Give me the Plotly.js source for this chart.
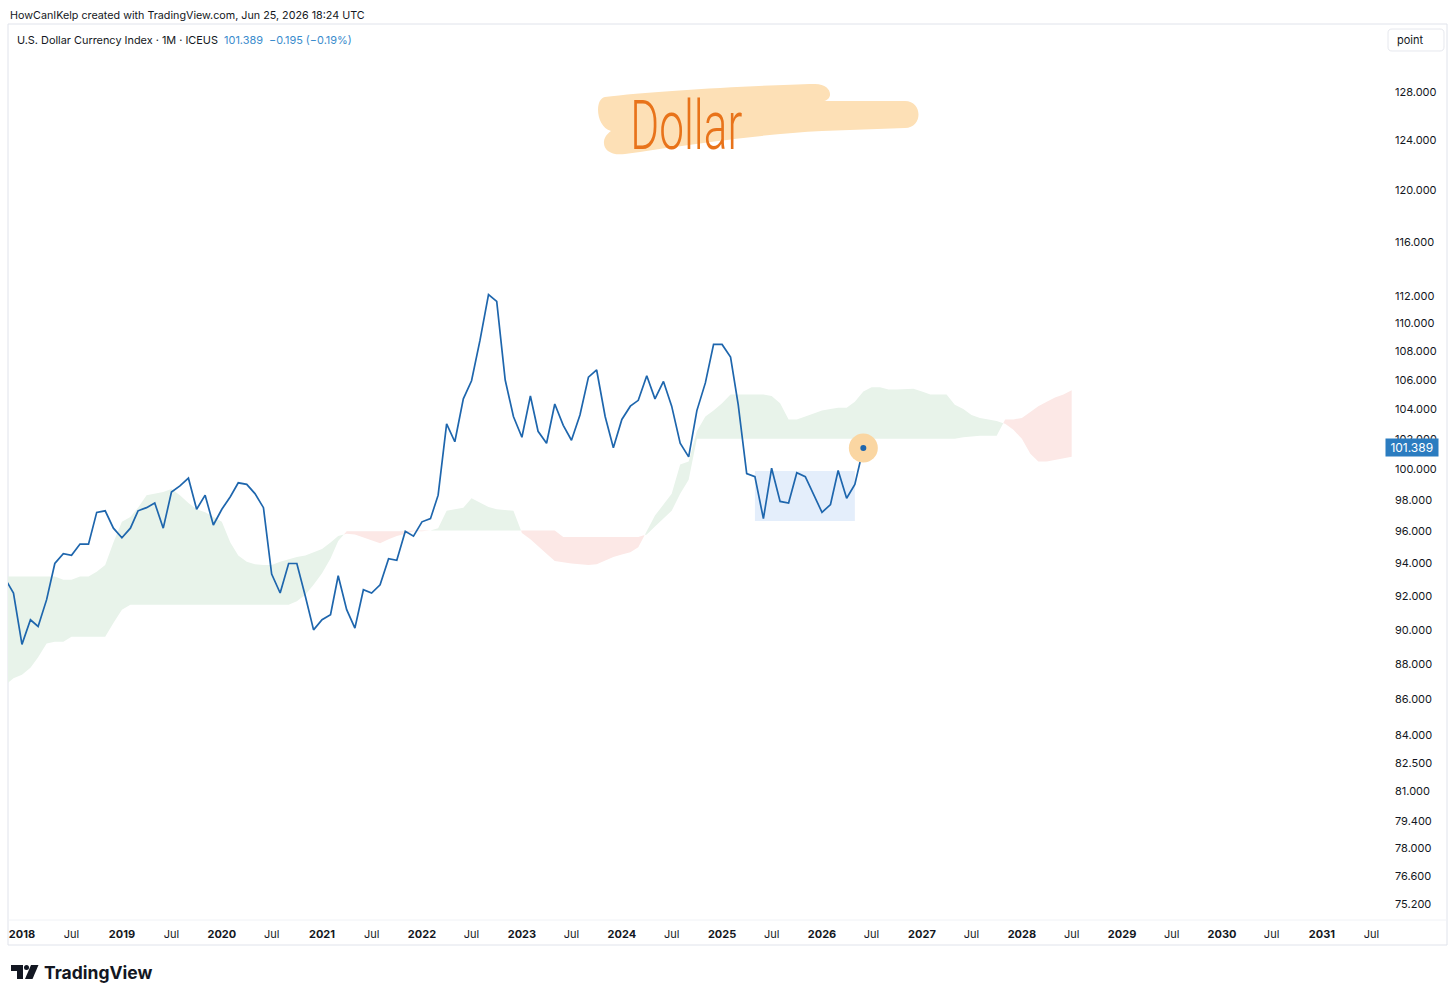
<!DOCTYPE html>
<html>
<head>
<meta charset="utf-8">
<script src="https://cdn.plot.ly/plotly-3.0.1.min.js"></script>
<style>
html,body{margin:0;padding:0;background:#ffffff;}
#chart{width:1456px;height:1000px;}
</style>
</head>
<body>
<div id="chart"></div>
<script>
// ---------------- DATA ----------------
// Monthly closes, U.S. Dollar Currency Index, Nov 2017 .. Jun 2026
const dxyStart = [2017, 11];
const dxyClose = [
  93.05, 92.2,
  89.15, 90.6, 90.2, 91.8, 94.0, 94.6, 94.5, 95.2, 95.2, 97.2, 97.3, 96.2,
  95.6, 96.2, 97.3, 97.5, 97.8, 96.2, 98.5, 98.9, 99.4, 97.4, 98.3, 96.4,
  97.4, 98.2, 99.1, 99.0, 98.4, 97.5, 93.35, 92.2, 94.0, 94.0, 92.0, 90.0,
  90.6, 90.9, 93.25, 91.2, 90.1, 92.4, 92.2, 92.7, 94.3, 94.2, 96.0, 95.7,
  96.6, 96.8, 98.3, 103.0, 101.8, 104.7, 105.95, 108.8, 112.1, 111.6, 106.0, 103.5,
  102.1, 104.9, 102.5, 101.7, 104.35, 102.9, 101.9, 103.6, 106.2, 106.7, 103.5, 101.4,
  103.3, 104.2, 104.6, 106.3, 104.7, 105.9, 104.2, 101.7, 100.8, 103.9, 105.8, 108.5,
  108.5, 107.6, 104.3, 99.7, 99.5, 96.8, 100.05, 97.9, 97.8, 99.76, 99.5, 98.4,
  97.2, 97.7, 99.9, 98.1, 99.0, 101.389
];

// Ichimoku cloud spans (plotted 26 months ahead), Nov 2017 .. Jul 2028
const cloudStart = [2017, 11];
const spanA = [
  93.2, 93.2,
  93.2, 93.2, 93.2, 93.2, 93.2, 93.0, 93.0, 93.2, 93.2, 93.5, 93.9, 95.3,
  96.6, 96.9, 97.5, 98.3, 98.4, 98.5, 98.7, 98.3, 97.8, 97.4, 97.2, 96.9,
  96.6, 95.3, 94.5, 94.1, 93.95, 93.9, 93.9, 94.1, 94.25, 94.4, 94.5, 94.7,
  94.9, 95.3, 95.7, 95.85, 95.8, 95.6, 95.4, 95.25, 95.5, 95.7, 95.85, 96.0,
  96.0, 96.05, 96.2, 97.3, 97.4, 97.5, 98.1, 97.8, 97.55, 97.4, 97.35, 97.3,
  95.9, 95.5, 95.1, 94.6, 94.15, 94.05, 94.0, 93.95, 93.9, 93.95, 94.2, 94.4,
  94.55, 94.7, 95.0, 96.0, 97.0, 97.7, 98.4, 100.3, 100.5, 102.5, 103.5, 103.9,
  104.4, 105.0, 105.0, 105.0, 105.0, 105.0, 104.9, 104.4, 103.3, 103.3, 103.5, 103.7,
  103.9, 104.0, 104.1, 104.1, 104.5, 105.2, 105.5, 105.5, 105.35, 105.35, 105.4, 105.4,
  105.2, 105.0, 105.0, 105.0, 104.3, 104.0, 103.6, 103.4, 103.3, 103.2, 103.0, 102.6,
  102.0, 101.0, 100.5, 100.5, 100.6, 100.7, 100.8
];
const spanB = [
  86.8, 87.2,
  87.4, 87.8, 88.4, 89.2, 89.3, 89.3, 89.6, 89.6, 89.6, 89.6, 89.6, 90.4,
  91.2, 91.5, 91.5, 91.5, 91.5, 91.5, 91.5, 91.5, 91.5, 91.5, 91.5, 91.5,
  91.5, 91.5, 91.5, 91.5, 91.5, 91.5, 91.5, 91.5, 91.5, 91.7, 92.1, 92.7,
  93.4, 94.3, 95.4, 96.0, 96.0, 96.0, 96.0, 96.0, 96.0, 96.0, 96.0, 96.05,
  96.05, 96.05, 96.05, 96.05, 96.05, 96.05, 96.05, 96.05, 96.05, 96.05, 96.05, 96.05,
  96.05, 96.05, 96.05, 96.05, 96.05, 95.65, 95.65, 95.65, 95.65, 95.65, 95.65, 95.65,
  95.65, 95.65, 95.65, 95.8, 96.3, 96.8, 97.3, 98.4, 99.3, 102.0, 102.0, 102.0,
  102.0, 102.0, 102.0, 102.0, 102.0, 102.0, 102.0, 102.0, 102.0, 102.0, 102.0, 102.0,
  102.0, 102.0, 102.0, 102.0, 102.0, 102.0, 102.0, 102.0, 102.0, 102.0, 102.0, 102.0,
  102.0, 102.0, 102.0, 102.0, 102.0, 102.1, 102.15, 102.2, 102.2, 102.2, 103.3, 103.3,
  103.4, 103.8, 104.2, 104.5, 104.8, 105.0, 105.3
];

// Range box drawn on the chart
const boxDates = ['2025-05-01', '2026-05-01'];
const boxRange = [96.65, 99.87];

// Axis ticks
const yTickVals = [128, 124, 120, 116, 112, 110, 108, 106, 104, 102, 100, 98, 96, 94, 92, 90, 88, 86, 84, 82.5, 81, 79.4, 78, 76.6, 75.2];
const xYears = [2018, 2019, 2020, 2021, 2022, 2023, 2024, 2025, 2026, 2027, 2028, 2029, 2030, 2031];

// Texts
const headerText = 'HowCanIKelp created with TradingView.com, Jun 25, 2026 18:24 UTC';
const symbolText = 'U.S. Dollar Currency Index · 1M · ICEUS';
const priceText = '101.389';
const changeText = '\u22120.195 (\u22120.19%)';
const noteText = 'Dollar';

// ---------------- HELPERS ----------------
function monthSeq(start, n) {
  const out = [];
  let y = start[0], m = start[1];
  for (let i = 0; i < n; i++) {
    out.push(y + '-' + String(m).padStart(2, '0') + '-01');
    m++; if (m > 12) { m = 1; y++; }
  }
  return out;
}
function fmt(ms) {
  const d = new Date(ms);
  const p = v => String(v).padStart(2, '0');
  return d.getUTCFullYear() + '-' + p(d.getUTCMonth() + 1) + '-' + p(d.getUTCDate()) + ' ' +
    p(d.getUTCHours()) + ':' + p(d.getUTCMinutes()) + ':' + p(d.getUTCSeconds());
}
function buildCloud(dates, a, b) {
  const t = dates.map(d => Date.parse(d + 'T00:00:00Z'));
  const X = [], A = [], B = [];
  for (let i = 0; i < t.length; i++) {
    if (i > 0) {
      const d0 = Math.log(a[i-1]) - Math.log(b[i-1]);
      const d1 = Math.log(a[i]) - Math.log(b[i]);
      if (d0 * d1 < 0) {
        const f = d0 / (d0 - d1);
        const tc = t[i-1] + f * (t[i] - t[i-1]);
        const vc = Math.exp(Math.log(a[i-1]) + f * (Math.log(a[i]) - Math.log(a[i-1])));
        X.push(fmt(tc)); A.push(vc); B.push(vc);
      }
    }
    X.push(fmt(t[i])); A.push(a[i]); B.push(b[i]);
  }
  const M = A.map((v, i) => Math.max(v, B[i]));
  return { X, A, B, M };
}

const dxyDates = monthSeq(dxyStart, dxyClose.length);
const cloudDates = monthSeq(cloudStart, spanA.length);
const cloud = buildCloud(cloudDates, spanA, spanB);

// pixel -> paper helpers (plot area: x 8..1383, y 25..920)
const L = 8, R = 1383, T = 25, Bt = 920;
const PX = px => (px - L) / (R - L);
const PY = py => (Bt - py) / (Bt - T);
const P = (x, y) => PX(x).toFixed(5) + ',' + PY(y).toFixed(5);

const GREEN = '#E8F3EA', RED = '#FCE8E6', LINE = '#1E66AD', TXT = '#131722', BLUE = '#2B7CC0';
const FONT = 'Inter, Roboto, "Noto Sans", sans-serif';

// ---------------- TRACES ----------------
const noLine = { color: 'rgba(0,0,0,0)', width: 0 };
const lastX = dxyDates[dxyDates.length - 1], lastY = dxyClose[dxyClose.length - 1];
const traces = [
  { x: cloud.X, y: cloud.B, type: 'scatter', mode: 'lines', line: noLine, hoverinfo: 'skip' },
  { x: cloud.X, y: cloud.M, type: 'scatter', mode: 'lines', line: noLine, fill: 'tonexty', fillcolor: GREEN, hoverinfo: 'skip' },
  { x: cloud.X, y: cloud.A, type: 'scatter', mode: 'lines', line: noLine, hoverinfo: 'skip' },
  { x: cloud.X, y: cloud.M, type: 'scatter', mode: 'lines', line: noLine, fill: 'tonexty', fillcolor: RED, hoverinfo: 'skip' },
  { x: [boxDates[0], boxDates[1], boxDates[1], boxDates[0], boxDates[0]],
    y: [boxRange[1], boxRange[1], boxRange[0], boxRange[0], boxRange[1]],
    type: 'scatter', mode: 'lines', line: noLine, fill: 'toself', fillcolor: '#E4EEFB', hoverinfo: 'skip' },
  { x: dxyDates, y: dxyClose, type: 'scatter', mode: 'lines', line: { color: LINE, width: 1.7 } },
  { x: [lastX], y: [lastY], type: 'scatter', mode: 'markers', marker: { size: 29, color: '#FAD6A2', line: { width: 0 } } },
  { x: [lastX], y: [lastY], type: 'scatter', mode: 'markers', marker: { size: 6, color: LINE, line: { width: 0 } } }
];

// ---------------- LAYOUT ----------------
const xTickVals = [], xTickText = [];
xYears.forEach(y => {
  xTickVals.push(y + '-01-01'); xTickText.push('<b>' + y + '</b>');
  xTickVals.push(y + '-07-01'); xTickText.push('Jul');
});

const blob = 'M' + P(605,97) + ' C' + P(650,91) + ' ' + P(760,85) + ' ' + P(815,84) +
  ' C' + P(832,84) + ' ' + P(834,99) + ' ' + P(824,101) +
  ' L' + P(905,101) + ' C' + P(923,101) + ' ' + P(923,128) + ' ' + P(905,128) +
  ' L' + P(822,131) + ' C' + P(760,134) + ' ' + P(680,146) + ' ' + P(625,154) +
  ' C' + P(603,157) + ' ' + P(598,140) + ' ' + P(611,131) +
  ' C' + P(596,127) + ' ' + P(594,99) + ' ' + P(605,97) + ' Z';

const btn = 'M' + P(1392,29) + ' L' + P(1440,29) + ' Q' + P(1444,29) + ' ' + P(1444,33) +
  ' L' + P(1444,47) + ' Q' + P(1444,51) + ' ' + P(1440,51) + ' L' + P(1392,51) +
  ' Q' + P(1388,51) + ' ' + P(1388,47) + ' L' + P(1388,33) + ' Q' + P(1388,29) + ' ' + P(1392,29) + ' Z';

const logoT = 'M' + P(11,965) + ' L' + P(23,965) + ' L' + P(23,979) + ' L' + P(17,979) + ' L' + P(17,971) + ' L' + P(11,971) + ' Z';
const logoV = 'M' + P(31,965) + ' L' + P(38.5,965) + ' L' + P(32.5,979) + ' L' + P(25,979) + ' Z';

const shapes = [
  { type: 'rect', xref: 'paper', yref: 'paper', x0: PX(8), x1: PX(1447), y0: PY(24), y1: PY(945),
    line: { color: '#E0E3EB', width: 1 }, fillcolor: 'rgba(0,0,0,0)', layer: 'below' },
  { type: 'line', xref: 'paper', yref: 'paper', x0: PX(8), x1: PX(1447), y0: PY(920), y1: PY(920),
    line: { color: '#F0F2F6', width: 1 }, layer: 'below' },
  { type: 'path', xref: 'paper', yref: 'paper', path: btn, line: { color: '#E6E8EE', width: 1 }, fillcolor: '#ffffff' },
  { type: 'path', xref: 'paper', yref: 'paper', path: blob, line: { width: 0 }, fillcolor: '#FDE0B6', layer: 'above' },
  { type: 'path', xref: 'paper', yref: 'paper', path: logoT, line: { width: 0 }, fillcolor: TXT },
  { type: 'path', xref: 'paper', yref: 'paper', path: logoV, line: { width: 0 }, fillcolor: TXT },
  { type: 'circle', xref: 'paper', yref: 'paper', x0: PX(24), x1: PX(29), y0: PY(965), y1: PY(970), line: { width: 0 }, fillcolor: TXT }
];

const annotations = [
  { xref: 'paper', yref: 'paper', x: PX(7.5), y: PY(16), xanchor: 'left', yanchor: 'middle', showarrow: false,
    text: headerText, font: { family: FONT, size: 10.75, color: TXT } },
  { xref: 'paper', yref: 'paper', x: PX(14.5), y: PY(40), xanchor: 'left', yanchor: 'middle', showarrow: false,
    text: symbolText + '\u00a0\u00a0<span style="color:#3A8CCD">' + priceText + '\u00a0\u00a0' + changeText + '</span>',
    font: { family: FONT, size: 10.9, color: TXT } },
  { xref: 'paper', yref: 'paper', x: PX(1410), y: PY(40), xanchor: 'center', yanchor: 'middle', showarrow: false,
    text: 'point', font: { family: FONT, size: 11, color: TXT } },
  { xref: 'paper', yref: 'paper', x: PX(686), y: PY(126), xanchor: 'center', yanchor: 'middle', showarrow: false,
    text: noteText, font: { family: 'Roboto, "Noto Sans", sans-serif', size: 68, weight: 300, color: '#E8731A' } },
  { xref: 'paper', yref: 'y', x: 1, y: Math.log10(lastY), xanchor: 'left', yanchor: 'middle',
    xshift: 2, showarrow: false, text: '\u00a0' + priceText + '\u00a0', bgcolor: BLUE, borderpad: 1,
    font: { family: FONT, size: 12, color: '#ffffff' } },
  { xref: 'paper', yref: 'paper', x: PX(42), y: PY(972), xanchor: 'left', yanchor: 'middle', showarrow: false,
    text: '<b>TradingView</b>', font: { family: FONT, size: 17.5, color: TXT } }
];

const layout = {
  width: 1456, height: 1000,
  margin: { l: L, r: 1456 - R, t: T, b: 1000 - Bt, pad: 0 },
  paper_bgcolor: '#ffffff', plot_bgcolor: '#ffffff',
  showlegend: false, hovermode: false,
  xaxis: {
    type: 'date', range: ['2017-11-11', '2031-08-12'],
    tickmode: 'array', tickvals: xTickVals, ticktext: xTickText,
    tickfont: { family: FONT, size: 11, color: TXT },
    showgrid: false, zeroline: false, showline: false, ticks: '', ticklabelstandoff: 6, fixedrange: true
  },
  yaxis: {
    type: 'log', side: 'right', range: [1.87173, 2.12628],
    tickmode: 'array', tickvals: yTickVals, ticktext: yTickVals.map(v => v.toFixed(3)),
    tickfont: { family: FONT, size: 11, color: TXT },
    showgrid: false, zeroline: false, showline: false, ticks: '', ticklabelstandoff: 11, fixedrange: true
  },
  shapes: shapes,
  annotations: annotations
};

Plotly.newPlot('chart', traces, layout, { displayModeBar: false, staticPlot: true }).then(() => {
  // squeeze the handwritten note horizontally to the width it has in the reference
  document.querySelectorAll('.annotation-text').forEach(t => {
    if (t.textContent === noteText) {
      t.setAttribute('textLength', '112');
      t.setAttribute('lengthAdjust', 'spacingAndGlyphs');
    }
  });
});
</script>
</body>
</html>
